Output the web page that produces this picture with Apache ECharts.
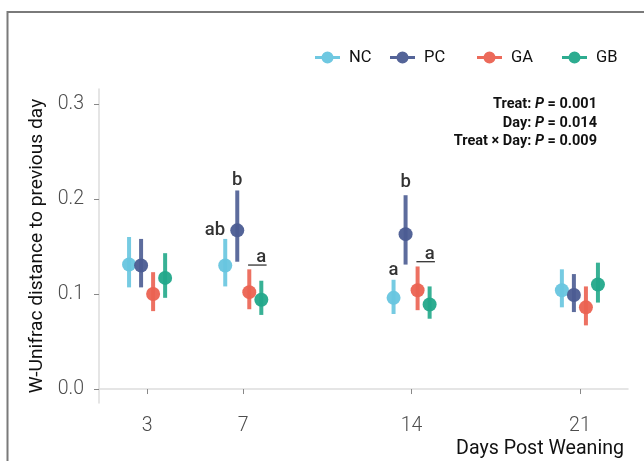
<!DOCTYPE html>
<html>
<head>
<meta charset="utf-8">
<script src="https://cdn.jsdelivr.net/npm/echarts@6/dist/echarts.min.js"></script>
<style>
html,body{margin:0;padding:0;background:#fff;}
#chart{width:644px;height:461px;}
</style>
</head>
<body>
<div id="chart"></div>
<script>
// ---- data ----
const days = [3, 7, 14, 21];
const groups = ['NC', 'PC', 'GA', 'GB'];
const NC_mean = [0.131, 0.130, 0.096, 0.104];
const NC_low  = [0.107, 0.108, 0.079, 0.086];
const NC_high = [0.160, 0.158, 0.115, 0.126];
const PC_mean = [0.130, 0.167, 0.163, 0.099];
const PC_low  = [0.107, 0.134, 0.131, 0.081];
const PC_high = [0.158, 0.209, 0.204, 0.121];
const GA_mean = [0.100, 0.102, 0.104, 0.086];
const GA_low  = [0.082, 0.084, 0.083, 0.067];
const GA_high = [0.123, 0.126, 0.129, 0.108];
const GB_mean = [0.117, 0.094, 0.089, 0.110];
const GB_low  = [0.096, 0.078, 0.074, 0.091];
const GB_high = [0.143, 0.114, 0.108, 0.133];
const yTicks = [0, 0.1, 0.2, 0.3];
const xTicks = [3, 7, 14, 21];
// significance letters
const letterDay   = [7, 7, 7, 14, 14, 14];
const letterGroup = [0, 1, 3, 0, 1, 3];
const letterY     = [0.167, 0.220, 0.139, 0.125, 0.217, 0.142];
const letterText  = ['ab', 'b', 'a', 'a', 'b', 'a'];
const underlineDay = [7, 14];
const underlineY   = [0.1305, 0.134];
// statistics
const statLabels = ['Treat:', 'Day:', 'Treat \u00d7 Day:'];
const statP      = ['0.001', '0.014', '0.009'];

// ---- style ----
const FONT = "Roboto,'Noto Sans',sans-serif";
const colors = ['#67c5df', '#4b5c92', '#eb6251', '#22a88a'];
const dodge = [-0.75, -0.25, 0.25, 0.75];
const means = [NC_mean, PC_mean, GA_mean, GB_mean];
const lows  = [NC_low, PC_low, GA_low, GB_low];
const highs = [NC_high, PC_high, GA_high, GB_high];

const series = [];
groups.forEach((g, gi) => {
  series.push({
    name: g + ' SE',
    type: 'custom',
    silent: true,
    data: days.map((d, i) => [d + dodge[gi], lows[gi][i], highs[gi][i]]),
    encode: { x: 0, y: [1, 2] },
    renderItem: function (params, api) {
      const p1 = api.coord([api.value(0), api.value(1)]);
      const p2 = api.coord([api.value(0), api.value(2)]);
      return {
        type: 'line',
        shape: { x1: p1[0], y1: p1[1], x2: p2[0], y2: p2[1] },
        style: { stroke: colors[gi], lineWidth: 4, opacity: 0.9 }
      };
    },
    z: 2
  });
  series.push({
    name: g,
    type: 'scatter',
    symbol: 'circle',
    symbolSize: 14,
    itemStyle: { color: colors[gi], opacity: 0.95 },
    data: days.map((d, i) => [d + dodge[gi], means[gi][i]]),
    z: 3
  });
});

series.push({
  name: 'letters',
  type: 'scatter',
  silent: true,
  symbolSize: 0,
  data: letterDay.map((d, i) => ({
    value: [d + dodge[letterGroup[i]], letterY[i]],
    label: {
      show: true,
      formatter: letterText[i],
      position: 'inside',
      align: letterText[i].length > 1 ? 'right' : 'center'
    }
  })),
  label: { color: '#000', fontSize: 18.5, fontWeight: 500, fontFamily: FONT },
  z: 4
});

series.push({
  name: 'underline',
  type: 'custom',
  silent: true,
  data: underlineDay.map((d, i) => [d + dodge[2] - 0.05, d + dodge[3] + 0.22, underlineY[i]]),
  renderItem: function (params, api) {
    const p1 = api.coord([api.value(0), api.value(2)]);
    const p2 = api.coord([api.value(1), api.value(2)]);
    return {
      type: 'line',
      shape: { x1: p1[0], y1: p1[1], x2: p2[0], y2: p2[1] },
      style: { stroke: '#222', lineWidth: 1.2 }
    };
  },
  z: 4
});

// line + dot legend glyph (both sub-paths wound clockwise so the dot stays filled)
const legendIcon = 'path://M0,5 L25,5 L25,8 L0,8 Z M6.5,6.5 A6,6 0 1,1 18.5,6.5 A6,6 0 1,1 6.5,6.5 Z';
const legendLefts = [310, 385, 472, 557];
const legends = groups.map((g, gi) => ({
  data: [g],
  left: legendLefts[gi],
  top: 44,
  icon: legendIcon,
  itemWidth: 25,
  itemHeight: 12,
  selectedMode: false,
  textStyle: { fontSize: 16.5, color: '#111', fontFamily: FONT, padding: [0, 0, 0, 4] }
}));

const graphics = [
  { type: 'line', shape: { x1: 7.5, y1: 12, x2: 644, y2: 12 }, style: { stroke: '#7a7a7a', lineWidth: 2 } },
  { type: 'line', shape: { x1: 7.5, y1: 11, x2: 7.5, y2: 461 }, style: { stroke: '#7a7a7a', lineWidth: 2 } },
  { type: 'text', right: 20, top: 439, style: { text: 'Days Post Weaning', font: '19.6px ' + FONT, fill: '#111' } }
];
statLabels.forEach((s, i) => {
  graphics.push({
    type: 'text',
    right: 47,
    top: 97 + i * 18.6,
    style: {
      text: '{b|' + s + ' }{i|P}{b| = ' + statP[i] + '}',
      rich: {
        b: { fontFamily: FONT, fontWeight: 'bold', fontSize: 14.5, fill: '#111', color: '#111' },
        i: { fontFamily: FONT, fontWeight: 'bold', fontStyle: 'italic', fontSize: 14.5, fill: '#111', color: '#111' }
      }
    }
  });
});

const chart = echarts.init(document.getElementById('chart'), null, { renderer: 'canvas' });
chart.setOption({
  animation: false,
  backgroundColor: '#fff',
  legend: legends,
  graphic: graphics,
  grid: { left: 99, right: 16, top: 89, bottom: 58, containLabel: false },
  xAxis: {
    type: 'value',
    min: 1,
    max: 23,
    axisLine: { show: true, lineStyle: { color: '#dddddd', width: 1.5 } },
    axisTick: { show: true, customValues: xTicks, length: 5, lineStyle: { color: '#888' } },
    axisLabel: { customValues: xTicks, fontSize: 19.5, fontWeight: 300, color: '#4d4d4d', fontFamily: FONT, margin: 13 },
    splitLine: { show: false }
  },
  yAxis: {
    type: 'value',
    min: -0.0147,
    max: 0.3158,
    name: 'W-Unifrac distance to previous day',
    nameLocation: 'middle',
    nameRotate: 90,
    nameGap: 46,
    nameTextStyle: { fontSize: 19.2, color: '#111', fontFamily: FONT },
    axisLine: { show: true, lineStyle: { color: '#dddddd', width: 1.5 } },
    axisTick: { show: true, customValues: yTicks, length: 5, lineStyle: { color: '#888' } },
    axisLabel: { customValues: yTicks, fontSize: 19.5, fontWeight: 300, color: '#4d4d4d', fontFamily: FONT, margin: 15,
      formatter: v => v.toFixed(1) },
    splitLine: { show: false }
  },
  series: series
});
</script>
</body>
</html>
